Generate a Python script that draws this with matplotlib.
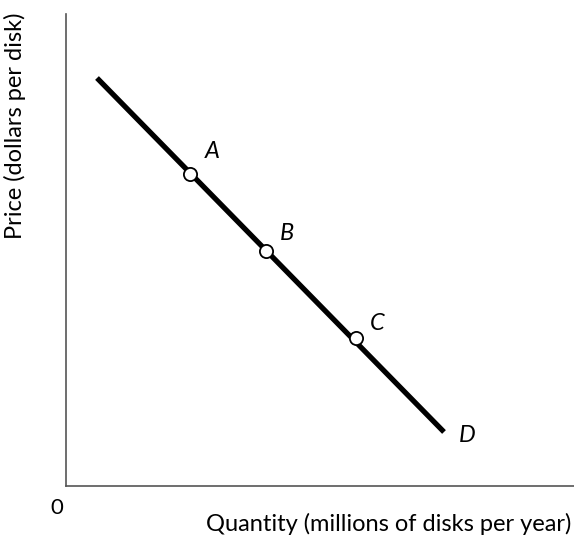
import matplotlib.pyplot as plt

# demand curve D (quantity, price) in chart units
curve_q = [3.1, 37.8]
curve_p = [40.8, 5.4]

# labelled points
point_names = ["A", "B", "C"]
point_q = [12.4, 20.0, 29.0]
point_p = [31.2, 23.5, 14.8]

# label positions
label_names = ["A", "B", "C", "D"]
label_q = [14.6, 22.1, 31.1, 40.1]
label_p = [33.4, 25.3, 16.3, 5.1]

fig = plt.figure(figsize=(5.74, 5.40), dpi=100)
ax = fig.add_axes([66 / 574, 54 / 540, 508 / 574, 472 / 540])
ax.set_xlim(0, 50.8)
ax.set_ylim(0, 47.2)

ax.plot(curve_q, curve_p, color="black", lw=3.8, solid_capstyle="butt")
ax.plot(point_q, point_p, "o", ms=9.5, mfc="white", mec="black", mew=1.3, zorder=3)

for name, q, p in zip(label_names, label_q, label_p):
    ax.text(q, p, name, fontsize=17, style="italic",
            ha="center", va="center", family="Lato")

for s in ["top", "right"]:
    ax.spines[s].set_visible(False)
for s in ["left", "bottom"]:
    ax.spines[s].set_color("#555555")
    ax.spines[s].set_linewidth(1.2)
ax.set_xticks([])
ax.set_yticks([])

fig.text(57 / 574, 1 - 508 / 540, "0", fontsize=16, ha="center", va="center", family="Lato")
fig.text(571 / 574, 1 - 524 / 540, "Quantity (millions of disks per year)", fontsize=17,
         ha="right", va="center", family="Lato")
fig.text(15 / 574, 1 - 126 / 540, "Price (dollars per disk)", fontsize=17,
         rotation=90, ha="center", va="center", family="Lato")

fig.savefig("out.png", dpi=100)
